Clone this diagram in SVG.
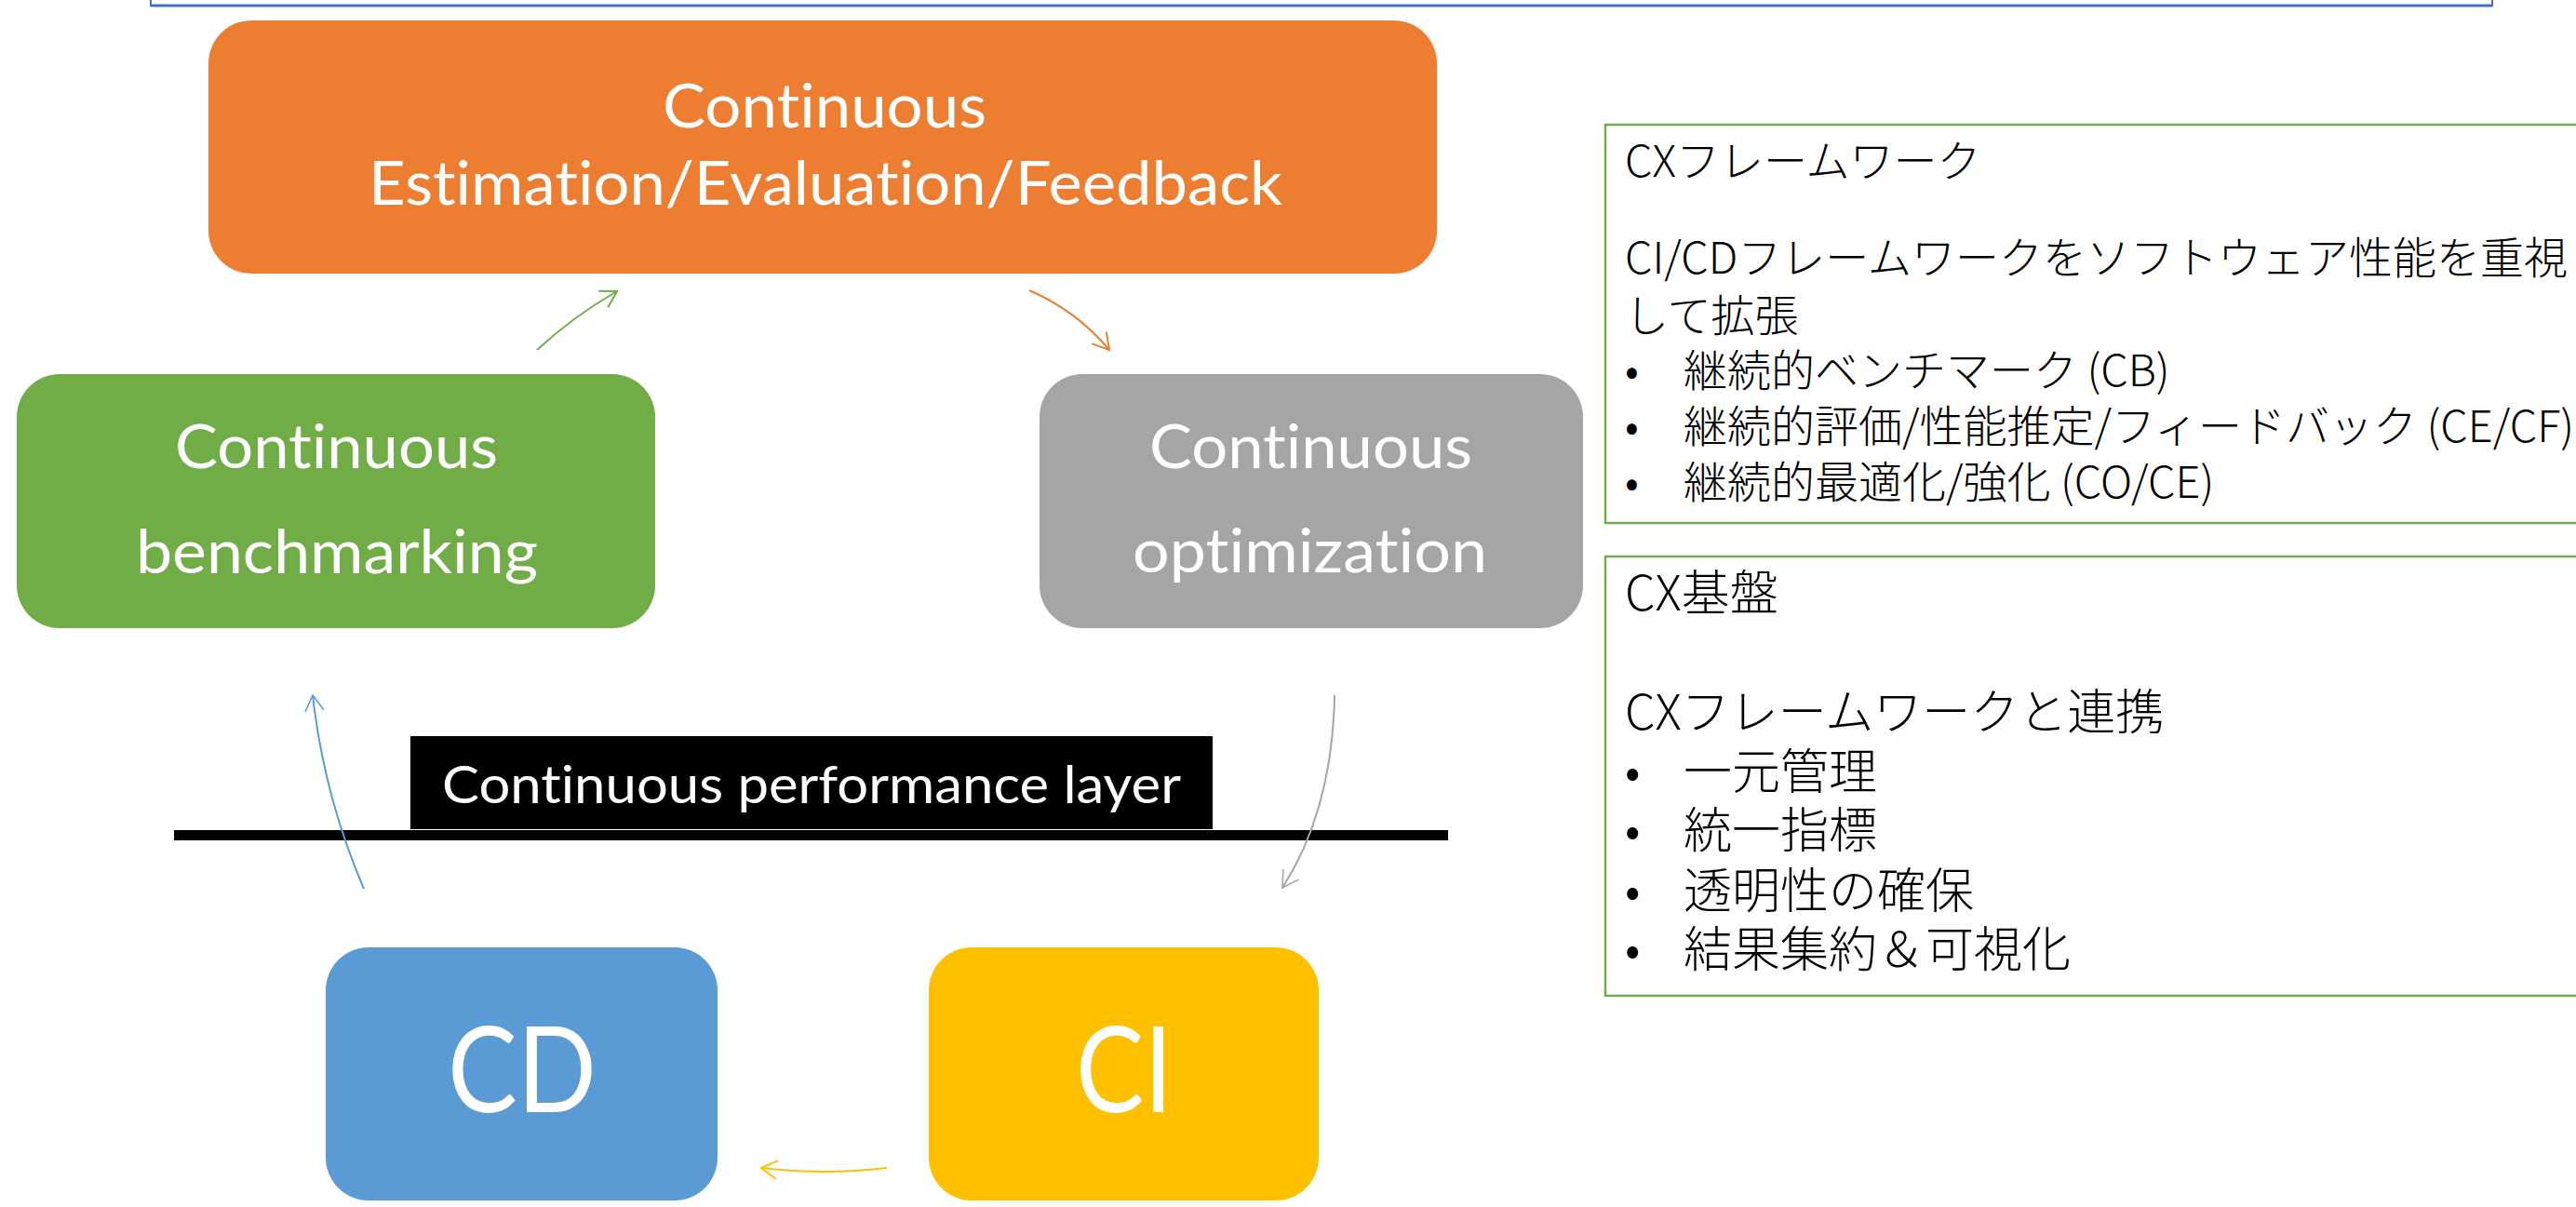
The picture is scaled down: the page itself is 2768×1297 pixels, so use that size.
<svg xmlns="http://www.w3.org/2000/svg" width="2768" height="1297" viewBox="0 0 2768 1297">
<style>
.lbl{font-family:Lato,"Liberation Sans",sans-serif;fill:#FFFFFF;font-variant-ligatures:none;font-feature-settings:"liga" 0,"clig" 0,"dlig" 0;}
.jp{font-family:"Noto Sans CJK JP",sans-serif;fill:#000000;font-weight:300;}
.j1{font-size:47px;}
.j2{font-size:52px;}
.conn{fill:none;stroke-width:2;}
.tbox{fill:#FFFFFF;stroke:#70AD47;stroke-width:2.5;}
</style>
<defs>
<marker id="ahG" markerUnits="userSpaceOnUse" markerWidth="20" markerHeight="22" viewBox="0 0 20 22" refX="18" refY="11" orient="auto"><path d="M1,1 L18,11 L1,21" fill="none" stroke="#70AD47" stroke-width="2"/></marker>
<marker id="ahO" markerUnits="userSpaceOnUse" markerWidth="20" markerHeight="22" viewBox="0 0 20 22" refX="18" refY="11" orient="auto"><path d="M1,1 L18,11 L1,21" fill="none" stroke="#ED7D31" stroke-width="2"/></marker>
<marker id="ahA" markerUnits="userSpaceOnUse" markerWidth="20" markerHeight="22" viewBox="0 0 20 22" refX="18" refY="11" orient="auto"><path d="M1,1 L18,11 L1,21" fill="none" stroke="#A5A5A5" stroke-width="1.6"/></marker>
<marker id="ahB" markerUnits="userSpaceOnUse" markerWidth="20" markerHeight="22" viewBox="0 0 20 22" refX="18" refY="11" orient="auto"><path d="M1,1 L18,11 L1,21" fill="none" stroke="#5B9BD5" stroke-width="1.6"/></marker>
<marker id="ahY" markerUnits="userSpaceOnUse" markerWidth="20" markerHeight="22" viewBox="0 0 20 22" refX="18" refY="11" orient="auto"><path d="M1,1 L18,11 L1,21" fill="none" stroke="#FFC000" stroke-width="2"/></marker>
</defs>
<rect width="2768" height="1297" fill="#FFFFFF"/>
<g id="top-frame">
<rect x="162" y="-20" width="2516" height="26" fill="none" stroke="#4472C4" stroke-width="2"/>
<line x1="162" y1="6" x2="2678" y2="6" stroke="#4472C4" stroke-width="3"/>
</g>
<g id="node-estimation">
<rect x="224" y="22" width="1320" height="272" rx="46" fill="#ED7D31"/>
<text class="lbl" x="712" y="137" font-size="66" textLength="348" lengthAdjust="spacingAndGlyphs">Continuous</text>
<text class="lbl" x="396" y="220" font-size="66" textLength="982" lengthAdjust="spacingAndGlyphs">Estimation/Evaluation/Feedback</text>
</g>
<g id="node-benchmarking">
<rect x="18" y="402" width="686" height="273" rx="46" fill="#70AD47"/>
<text class="lbl" x="188" y="503" font-size="66" textLength="347" lengthAdjust="spacingAndGlyphs">Continuous</text>
<text class="lbl" x="146" y="616" font-size="66" textLength="432" lengthAdjust="spacingAndGlyphs">benchmarking</text>
</g>
<g id="node-optimization">
<rect x="1117" y="402" width="584" height="273" rx="46" fill="#A5A5A5"/>
<text class="lbl" x="1235" y="503" font-size="66" textLength="347" lengthAdjust="spacingAndGlyphs">Continuous</text>
<text class="lbl" x="1217" y="615" font-size="66" textLength="381" lengthAdjust="spacingAndGlyphs">optimization</text>
</g>
<g id="node-cd">
<rect x="350" y="1018" width="421" height="272" rx="46" fill="#5B9BD5"/>
<text class="lbl" x="481" y="1195" font-size="128" textLength="160" lengthAdjust="spacingAndGlyphs">CD</text>
</g>
<g id="node-ci">
<rect x="998" y="1018" width="419" height="272" rx="46" fill="#FFC000"/>
<text class="lbl" x="1156" y="1195" font-size="128" textLength="104" lengthAdjust="spacingAndGlyphs">CI</text>
</g>
<g id="layer">
<rect x="441" y="791" width="862" height="100" fill="#000000"/>
<text class="lbl" x="475" y="863" font-size="57" textLength="794" lengthAdjust="spacingAndGlyphs">Continuous performance layer</text>
<rect x="187" y="892" width="1369" height="11" fill="#000000"/>
</g>
<g id="connectors">
<path class="conn" d="M577,376 Q616,340 663,313" stroke="#70AD47" marker-end="url(#ahG)"/>
<path class="conn" d="M1106,312 Q1157,334 1192,376" stroke="#ED7D31" marker-end="url(#ahO)"/>
<path class="conn" d="M1434,747 Q1432,870 1378,954" stroke="#A5A5A5" stroke-width="1.6" marker-end="url(#ahA)"/>
<path class="conn" d="M953,1255 Q885,1263 818,1255" stroke="#FFC000" marker-end="url(#ahY)"/>
<path class="conn" d="M391,955 Q348,855 336,747" stroke="#5B9BD5" stroke-width="1.6" marker-end="url(#ahB)"/>
</g>
<g id="box-framework">
<rect class="tbox" x="1725" y="134" width="1100" height="428"/>
<text class="jp j1" x="1746" y="190">CXフレームワーク</text>
<text class="jp j1" x="1746" y="294">CI/CDフレームワークをソフトウェア性能を重視</text>
<text class="jp j1" x="1746" y="356">して拡張</text>
<text class="jp j1" x="1746" y="415">•<tspan x="1809">継続的ベンチマーク (CB)</tspan></text>
<text class="jp j1" x="1746" y="475">•<tspan x="1809">継続的評価/性能推定/フィードバック (CE/CF)</tspan></text>
<text class="jp j1" x="1746" y="535">•<tspan x="1809">継続的最適化/強化 (CO/CE)</tspan></text>
</g>
<g id="box-foundation">
<rect class="tbox" x="1725" y="598" width="1100" height="472"/>
<text class="jp j2" x="1746" y="656">CX基盤</text>
<text class="jp j2" x="1746" y="784">CXフレームワークと連携</text>
<text class="jp j2" x="1746" y="848">•<tspan x="1809">一元管理</tspan></text>
<text class="jp j2" x="1746" y="911">•<tspan x="1809">統一指標</tspan></text>
<text class="jp j2" x="1746" y="976">•<tspan x="1809">透明性の確保</tspan></text>
<text class="jp j2" x="1746" y="1039">•<tspan x="1809">結果集約＆可視化</tspan></text>
</g>
</svg>
